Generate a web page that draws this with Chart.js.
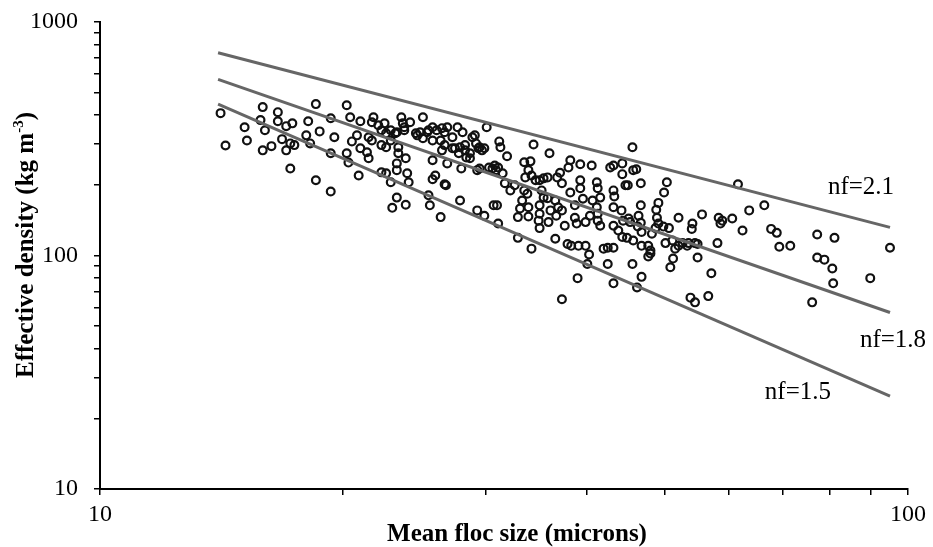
<!DOCTYPE html>
<html>
<head>
<meta charset="utf-8">
<script src="https://cdn.jsdelivr.net/npm/chart.js@4.4.1/dist/chart.umd.min.js"></script>
<style>
  html, body { margin: 0; padding: 0; background: #fff; }
  #wrap { width: 933px; height: 547px; position: relative; }
</style>
</head>
<body>
<div id="wrap"><canvas id="flocChart"></canvas></div>
<script>
// --- Data: mean floc size (microns) vs effective density (kg m-3) ---
const flocSize = [
  14.1, 14.3, 15.1, 15.2, 15.9, 15.8, 16.0, 15.9, 16.3, 16.6, 16.6, 16.8, 17.0, 17.3, 17.0, 17.2, 17.4, 17.2,
  18.1, 18.0, 18.2, 18.5, 18.7, 18.5, 19.3, 19.5, 19.3, 19.3, 20.2, 20.4, 20.5, 20.2, 20.3,
  21.0, 20.8, 20.9, 21.0, 21.4, 21.5, 21.7, 21.8, 21.5, 21.7, 22.1, 22.3, 22.5, 22.6, 22.3, 22.6, 22.9,
  23.2, 23.4, 23.4, 23.6, 23.7, 23.8, 24.2, 23.9, 23.3, 23.3, 22.6, 22.9, 24.0, 24.1,
  25.1, 24.6, 24.9, 25.1, 25.5, 25.8, 25.8, 26.0, 25.8, 25.5, 25.6, 26.7, 23.3, 23.9, 23.0,
  26.1, 26.5, 26.7, 26.4, 26.7, 26.5, 26.9, 27.3, 27.7, 27.5, 27.8, 28.1, 28.3, 28.3, 28.0, 28.4, 28.7,
  28.9, 29.2, 29.4, 29.7, 30.1, 27.9, 26.4, 29.3, 29.9, 30.6, 30.7, 29.3,
  31.2, 31.3, 31.9, 34.4, 36.0, 29.9, 31.1, 30.9, 31.5, 31.7, 32.2, 32.6, 31.0, 31.1, 32.9, 34.2,
  33.5, 34.1, 33.9, 34.2, 33.6, 33.5, 33.8, 33.3, 33.1, 32.9, 33.9, 33.9, 34.6, 35.0, 35.4, 35.8,
  35.2, 35.4, 35.0, 35.0, 34.9, 35.0, 35.8, 36.1, 36.7, 36.8, 37.3, 36.6, 36.9, 37.3,
  38.2, 38.0, 39.3, 40.6, 38.2, 39.3, 39.3, 39.6, 38.7, 39.9, 38.9, 36.6, 37.9, 38.3, 39.1, 39.9,
  40.3, 40.1, 39.0, 37.3, 41.2, 41.3, 41.6, 40.7, 41.2, 41.3, 41.3, 41.6, 42.0, 43.2, 42.5, 43.2,
  42.8, 43.2, 44.3, 44.3, 43.2, 43.3, 43.2, 44.2, 44.7, 43.2, 43.8, 44.3, 44.9, 45.6, 45.7, 45.6, 45.3,
  46.1, 45.0, 46.7, 50.3, 49.9, 49.1, 48.8, 46.7, 46.4, 45.1, 46.3, 48.9, 49.1, 49.8, 50.6,
  52.0, 54.1, 54.0, 55.6, 58.3, 58.6, 58.9, 60.6, 62.4, 61.6, 63.6, 66.4, 67.7,
  48.2, 45.7, 46.8, 47.7, 48.0, 47.7, 50.1, 51.1, 51.5, 52.0, 51.2, 50.8, 53.3, 54.5, 54.9, 58.1, 57.1,
  46.8, 46.2, 53.8, 54.5, 56.6, 68.8, 69.3, 71.5, 77.2, 81.1, 77.2, 78.8, 80.6, 80.8, 76.1, 89.8, 95.0,
  30.3, 22.9, 23.3, 23.8, 24.7, 25.4, 25.8, 26.9, 29.1, 29.5, 27.3, 27.9, 28.7, 29.5, 30.8, 26.8, 22.3,
  44.4, 46.7, 46.8, 48.0, 48.7, 52.6, 53.5, 54.9, 42.5, 37.1, 38.7, 40.4, 37.6, 35.9
];
const effDensity = [
  407, 296, 354, 311, 432, 380, 344, 282, 294, 411, 376, 315, 358, 368, 282, 302, 297, 236,
  376, 327, 302, 445, 340, 210, 387, 321, 274, 188, 440, 391, 308, 274, 250,
  376, 327, 220, 288, 277, 261, 372, 391, 321, 311, 361, 344, 368, 334, 297, 291, 311,
  334, 291, 274, 391, 368, 344, 372, 261, 248, 232, 225, 206, 225, 206,
  391, 334, 337, 318, 344, 311, 256, 220, 212, 181, 164, 202, 177, 165, 160,
  344, 351, 337, 311, 297, 282, 248, 321, 354, 288, 274, 337, 297, 282, 236, 263, 261,
  321, 302, 288, 282, 354, 172, 146, 156, 148, 236, 164, 232,
  308, 291, 266, 299, 274, 288, 238, 232, 225, 204, 190, 200, 164, 137, 119, 107,
  251, 253, 232, 220, 216, 190, 184, 172, 159, 146, 161, 147, 210, 210, 214, 216,
  190, 177, 164, 151, 141, 131, 176, 156, 148, 216, 204, 172, 161, 156,
  256, 238, 246, 243, 186, 210, 194, 175, 145, 139, 137, 118, 112, 110, 110, 110,
  101, 92, 80, 65, 206, 194, 177, 172, 161, 151, 141, 134, 107, 108, 92, 76,
  238, 243, 248, 223, 190, 179, 161, 156, 200, 134, 128, 120, 119, 291, 232, 92, 139,
  234, 200, 204, 206, 186, 168, 157, 164, 148, 144, 133, 145, 137, 133, 131,
  145, 137, 130, 150, 145, 137, 141, 144, 128, 202, 156, 164, 130,
  124, 116, 110, 110, 105, 99, 113, 116, 107, 110, 97, 89, 110, 113, 98, 113, 84,
  81, 73, 66, 63, 67, 125, 109, 110, 123, 119, 98, 96, 88, 76, 63, 80, 108,
  238, 344, 337, 354, 327, 337, 354, 354, 327, 291, 288, 291, 274, 236, 243, 200, 227,
  141, 138, 126, 102, 131, 113, 113, 112, 108, 226, 164, 148, 134, 139
];

// fractal dimension reference lines (end points)
const lineSize = [14, 95];
const nf21 = [738, 132];
const nf18 = [568, 57];
const nf15 = [445, 25];
const lineNames = ['nf=2.1', 'nf=1.8', 'nf=1.5'];
// label anchors (left/baseline) in data units
const labelSize = [79.6, 87.2, 66.5];
const labelDensity = [184, 40.6, 24.3];

// axis ticks
const xTicks = [10, 20, 30, 40, 50, 60, 70, 80, 90, 100];
const yTicks = [10, 20, 30, 40, 50, 60, 70, 80, 90, 100, 200, 300, 400, 500, 600, 700, 800, 900, 1000];
const xLabelled = [10, 100];
const yLabelled = [10, 100, 1000];

const serif = "'Liberation Serif', 'Times New Roman', serif";

const points = flocSize.map((x, i) => ({ x: x, y: effDensity[i] }));
const mkLine = (vals) => lineSize.map((x, i) => ({ x: x, y: vals[i] }));

// --- axis titles + line labels drawn on top ---
const textPlugin = {
  id: 'textPlugin',
  afterDraw(chart) {
    const c = chart.ctx;
    const xs = chart.scales.x, ys = chart.scales.y;
    c.save();
    c.fillStyle = '#000';
    // line labels
    c.font = '25px ' + serif;
    c.textAlign = 'left';
    c.textBaseline = 'alphabetic';
    lineNames.forEach((t, i) => {
      c.fillText(t, xs.getPixelForValue(labelSize[i]), ys.getPixelForValue(labelDensity[i]));
    });
    // x title
    c.font = 'bold 25px ' + serif;
    c.textAlign = 'center';
    c.fillText('Mean floc size (microns)', 517, 541);
    // y title with superscript
    c.translate(33, 245);
    c.rotate(-Math.PI / 2);
    const main = 'Effective density (kg m';
    const sup = '-3';
    const close = ')';
    c.font = 'bold 25px ' + serif;
    const wMain = c.measureText(main).width;
    const wClose = c.measureText(close).width;
    c.font = 'bold 15px ' + serif;
    const wSup = c.measureText(sup).width;
    let x0 = -(wMain + wSup + wClose) / 2;
    c.textAlign = 'left';
    c.font = 'bold 25px ' + serif;
    c.fillText(main, x0, 0);
    c.font = 'bold 15px ' + serif;
    c.fillText(sup, x0 + wMain, -10);
    c.font = 'bold 25px ' + serif;
    c.fillText(close, x0 + wMain + wSup, 0);
    c.restore();
  }
};

const ctx = document.getElementById('flocChart').getContext('2d');
new Chart(ctx, {
  type: 'scatter',
  data: {
    datasets: [
      { label: lineNames[0], type: 'line', data: mkLine(nf21), borderColor: '#666', borderWidth: 3, pointRadius: 0, order: 0 },
      { label: lineNames[1], type: 'line', data: mkLine(nf18), borderColor: '#666', borderWidth: 3, pointRadius: 0, order: 0 },
      { label: lineNames[2], type: 'line', data: mkLine(nf15), borderColor: '#666', borderWidth: 3, pointRadius: 0, order: 0 },
      {
        label: 'data',
        data: points,
        pointStyle: 'circle',
        pointRadius: 3.9,
        borderWidth: 2.2,
        borderColor: '#111',
        backgroundColor: 'rgba(0,0,0,0)',
        order: 1
      }
    ]
  },
  options: {
    responsive: true,
    maintainAspectRatio: false,
    animation: false,
    layout: { padding: { top: 22, right: 25, left: 0, bottom: 0 } },
    plugins: { legend: { display: false }, tooltip: { enabled: false } },
    scales: {
      x: {
        type: 'logarithmic',
        min: 10,
        max: 100,
        afterBuildTicks: (s) => { s.ticks = xTicks.map(v => ({ value: v })); },
        afterFit: (s) => { s.height = 58; s.paddingLeft = 0; s.paddingRight = 0; },
        ticks: {
          autoSkip: false,
          maxRotation: 0,
          padding: 5,
          color: '#000',
          font: { family: serif, size: 24 },
          callback: (v) => xLabelled.includes(v) ? String(v) : ''
        },
        grid: { drawOnChartArea: false, tickLength: 6, color: '#000', lineWidth: 1.5 },
        border: { color: '#000', width: 2 }
      },
      y: {
        type: 'logarithmic',
        min: 10,
        max: 1000,
        afterBuildTicks: (s) => { s.ticks = yTicks.map(v => ({ value: v })); },
        afterFit: (s) => { s.width = 100; s.paddingTop = 0; s.paddingBottom = 0; },
        ticks: {
          autoSkip: false,
          padding: 16,
          color: '#000',
          font: { family: serif, size: 24 },
          callback: (v) => yLabelled.includes(v) ? String(v) : ''
        },
        grid: { drawOnChartArea: false, tickLength: 6, color: '#000', lineWidth: 1.5 },
        border: { color: '#000', width: 2 }
      }
    }
  },
  plugins: [textPlugin]
});
</script>
</body>
</html>
